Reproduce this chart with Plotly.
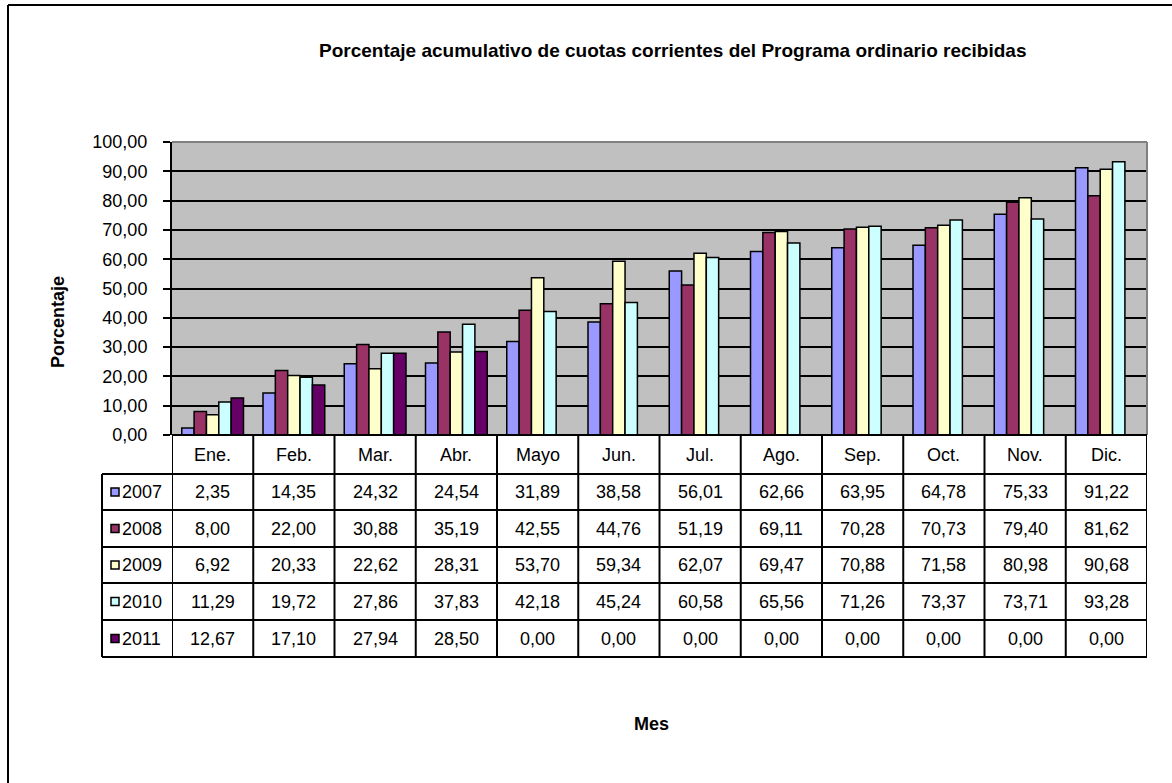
import plotly.graph_objects as go

months = ["Ene.", "Feb.", "Mar.", "Abr.", "Mayo", "Jun.", "Jul.", "Ago.", "Sep.", "Oct.", "Nov.", "Dic."]
years = ["2007", "2008", "2009", "2010", "2011"]
v2007 = [2.35, 14.35, 24.32, 24.54, 31.89, 38.58, 56.01, 62.66, 63.95, 64.78, 75.33, 91.22]
v2008 = [8.00, 22.00, 30.88, 35.19, 42.55, 44.76, 51.19, 69.11, 70.28, 70.73, 79.40, 81.62]
v2009 = [6.92, 20.33, 22.62, 28.31, 53.70, 59.34, 62.07, 69.47, 70.88, 71.58, 80.98, 90.68]
v2010 = [11.29, 19.72, 27.86, 37.83, 42.18, 45.24, 60.58, 65.56, 71.26, 73.37, 73.71, 93.28]
v2011 = [12.67, 17.10, 27.94, 28.50, 0.00, 0.00, 0.00, 0.00, 0.00, 0.00, 0.00, 0.00]
series = [v2007, v2008, v2009, v2010, v2011]
colors = ["#9999FF", "#993366", "#FFFFCC", "#CCFFFF", "#660066"]

W, H = 1172, 783
L, R, T, B = 172, 25, 142, 348
PW, PH = W - L - R, H - T - B
FONT = "Liberation Sans, Arial, sans-serif"
FS = 18


def px(x):
    return (x - L) / PW


def py(y):
    return (H - B - y) / PH


def fmt(v):
    return f"{v:.2f}".replace(".", ",")


def txt(x, y, text, xref="paper", xanchor="center", size=FS, **kw):
    return dict(x=x, xref=xref, y=y, yref="paper", text=text, showarrow=False,
                xanchor=xanchor, yanchor="middle",
                font=dict(family=FONT, size=size, color="black"), **kw)


fig = go.Figure()
for name, vals, col in zip(years, series, colors):
    fig.add_trace(go.Bar(x=months, y=vals, name=name,
                         marker=dict(color=col, line=dict(color="black", width=1.5))))

shapes = []
annotations = []
blk = dict(color="black", width=2)

# outer chart border (top and left visible)
shapes.append(dict(type="line", xref="paper", yref="paper", x0=px(8), x1=px(W + 5), y0=py(5), y1=py(5), line=blk))
shapes.append(dict(type="line", xref="paper", yref="paper", x0=px(8), x1=px(8), y0=py(5), y1=py(H + 5), line=blk))
# plot area border (gray top/right)
shapes.append(dict(type="line", xref="paper", yref="paper", x0=0, x1=1, y0=1, y1=1, line=dict(color="#808080", width=2)))
shapes.append(dict(type="line", xref="paper", yref="paper", x0=1, x1=1, y0=0, y1=1, line=dict(color="#808080", width=2)))

# data table
row_edges = [435, 474, 510, 547, 583, 620, 657]
tab_left = 102
shapes.append(dict(type="line", xref="paper", yref="paper", x0=0, x1=1,
                   y0=py(row_edges[0]), y1=py(row_edges[0]), line=blk))
for ye in row_edges[1:]:
    shapes.append(dict(type="line", xref="paper", yref="paper", x0=px(tab_left), x1=1, y0=py(ye), y1=py(ye), line=blk))
for i in range(len(months) + 1):
    shapes.append(dict(type="line", xref="x", yref="paper", x0=i - 0.5, x1=i - 0.5,
                       y0=py(row_edges[0]), y1=py(row_edges[-1]), line=blk))
shapes.append(dict(type="line", xref="paper", yref="paper", x0=px(tab_left), x1=px(tab_left),
                   y0=py(row_edges[1]), y1=py(row_edges[-1]), line=blk))

for m in months:
    annotations.append(txt(m, py((row_edges[0] + row_edges[1]) / 2), m, xref="x"))
for r, (name, vals, col) in enumerate(zip(years, series, colors)):
    yc = (row_edges[r + 1] + row_edges[r + 2]) / 2
    shapes.append(dict(type="rect", xref="paper", yref="paper", x0=px(111), x1=px(119),
                       y0=py(yc + 4), y1=py(yc - 4), fillcolor=col, line=dict(color="black", width=1.5)))
    annotations.append(txt(px(120), py(yc), name, xanchor="left"))
    for m, v in zip(months, vals):
        annotations.append(txt(m, py(yc), fmt(v), xref="x"))

# titles
annotations.append(txt(px(672), py(50),
                       "<b>Porcentaje acumulativo de cuotas corrientes del Programa ordinario recibidas</b>", size=19))
annotations.append(txt(px(58), py(322), "<b>Porcentaje</b>", textangle=-90))
annotations.append(txt(px(651), py(724), "<b>Mes</b>"))

fig.update_layout(
    width=W, height=H,
    margin=dict(l=L, r=R, t=T, b=B, autoexpand=False),
    paper_bgcolor="white", plot_bgcolor="#C0C0C0",
    barmode="group", bargap=0.24, bargroupgap=0,
    showlegend=False,
    separators=",.",
    font=dict(family=FONT, size=FS, color="black"),
    shapes=shapes, annotations=annotations,
)
fig.update_xaxes(showticklabels=False, ticks="", showgrid=False, zeroline=False,
                 showline=False, range=[-0.5, 11.5])
fig.update_yaxes(range=[0, 100], dtick=10, tickformat=".2f", showgrid=True, gridcolor="black", gridwidth=1.5,
                 ticks="outside", ticklen=7, tickwidth=1.5, tickcolor="black", showline=True, linecolor="black",
                 linewidth=2, zeroline=False, ticklabelstandoff=12,
                 tickfont=dict(family=FONT, size=FS, color="black"))

fig.write_html("out.html", config={"displayModeBar": False},
               post_script="document.body.style.margin='0';")
